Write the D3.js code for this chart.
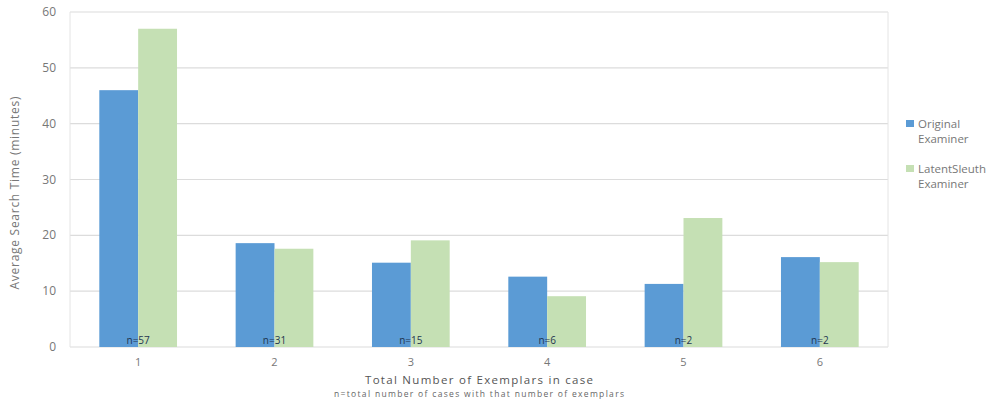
<!DOCTYPE html>
<html>
<head>
<meta charset="utf-8">
<script src="https://cdn.jsdelivr.net/npm/d3@7"></script>
<style>
  html, body { margin: 0; padding: 0; background: #fff; }
  svg { display: block; font-family: "Open Sans", Lato, sans-serif; }
</style>
</head>
<body>
<svg id="chart" width="995" height="400"></svg>
<script>
// Exemplar counts per case and the average search time for each examiner group
const categories = ["1", "2", "3", "4", "5", "6"];
const originalExaminer = [46, 18.6, 15.1, 12.6, 11.3, 16.1];
const latentSleuthExaminer = [57, 17.6, 19.1, 9.1, 23.1, 15.2];
const caseCounts = ["n=57", "n=31", "n=15", "n=6", "n=2", "n=2"];
const seriesNames = [["Original", "Examiner"], ["LatentSleuth", "Examiner"]];
const yTicks = [0, 10, 20, 30, 40, 50, 60];

const colors = ["#5b9bd5", "#c5e0b4"];

const svg = d3.select("#chart");
const plot = { left: 70, right: 888, top: 12, bottom: 347 };

const x = d3.scaleBand()
  .domain(categories)
  .range([plot.left, plot.right])
  .paddingInner(0.43)
  .paddingOuter(0.215);

const y = d3.scaleLinear().domain([0, 60]).range([plot.bottom, plot.top]);

// Horizontal gridlines
svg.append("g")
  .selectAll("line")
  .data(yTicks)
  .join("line")
  .attr("x1", plot.left)
  .attr("x2", plot.right)
  .attr("y1", d => y(d))
  .attr("y2", d => y(d))
  .attr("stroke", "#dcdcdc")
  .attr("stroke-width", 1.2);

// Plot frame sides
svg.append("g")
  .selectAll("line")
  .data([plot.left, plot.right])
  .join("line")
  .attr("x1", d => d).attr("x2", d => d)
  .attr("y1", plot.top).attr("y2", plot.bottom)
  .attr("stroke", "#e4e4e4")
  .attr("stroke-width", 1);

// Y axis tick labels
svg.append("g")
  .selectAll("text")
  .data(yTicks)
  .join("text")
  .attr("x", 56)
  .attr("y", d => y(d) + 4)
  .attr("text-anchor", "end")
  .attr("font-size", 12)
  .attr("fill", "#777")
  .text(d => d);

// Bars
const inner = d3.scaleBand()
  .domain([0, 1])
  .range([0, x.bandwidth()]);

const groups = svg.append("g")
  .selectAll("g")
  .data(categories)
  .join("g")
  .attr("transform", d => `translate(${x(d)},0)`);

groups.selectAll("rect")
  .data((d, i) => [originalExaminer[i], latentSleuthExaminer[i]])
  .join("rect")
  .attr("x", (d, j) => inner(j))
  .attr("width", inner.bandwidth())
  .attr("y", d => y(d))
  .attr("height", d => y(0) - y(d))
  .attr("fill", (d, j) => colors[j]);

// Case count labels at the foot of each pair
svg.append("g")
  .selectAll("text")
  .data(categories)
  .join("text")
  .attr("x", d => x(d) + x.bandwidth() / 2)
  .attr("y", plot.bottom - 3)
  .attr("text-anchor", "middle")
  .attr("font-size", 10)
  .attr("fill", "#1f3550")
  .text((d, i) => caseCounts[i]);

// X tick labels
svg.append("g")
  .selectAll("text")
  .data(categories)
  .join("text")
  .attr("x", d => x(d) + x.bandwidth() / 2)
  .attr("y", 366)
  .attr("text-anchor", "middle")
  .attr("font-size", 11)
  .attr("fill", "#777")
  .text(d => d);

// Axis titles
svg.append("text")
  .attr("x", (plot.left + plot.right) / 2)
  .attr("y", 383.5)
  .attr("text-anchor", "middle")
  .attr("font-size", 11.5)
  .attr("textLength", 228)
  .attr("lengthAdjust", "spacing")
  .attr("fill", "#555")
  .text("Total Number of Exemplars in case");

svg.append("text")
  .attr("x", (plot.left + plot.right) / 2)
  .attr("y", 397)
  .attr("text-anchor", "middle")
  .attr("font-size", 8.5)
  .attr("textLength", 290)
  .attr("lengthAdjust", "spacing")
  .attr("fill", "#666")
  .text("n=total number of cases with that number of exemplars");

svg.append("text")
  .attr("transform", `translate(19,193) rotate(-90)`)
  .attr("text-anchor", "middle")
  .attr("font-size", 12)
  .attr("textLength", 193)
  .attr("lengthAdjust", "spacing")
  .attr("fill", "#777")
  .text("Average Search Time (minutes)");

// Legend
const legend = svg.append("g")
  .selectAll("g")
  .data(seriesNames)
  .join("g")
  .attr("transform", (d, i) => `translate(906,${120 + i * 45})`);

legend.append("rect")
  .attr("width", 8)
  .attr("height", 7)
  .attr("y", 0)
  .attr("fill", (d, i) => colors[i]);

legend.append("text")
  .attr("x", 12)
  .attr("y", 8)
  .attr("font-size", 11.5)
  .attr("fill", "#777")
  .selectAll("tspan")
  .data(d => d)
  .join("tspan")
  .attr("x", 12)
  .attr("dy", (d, k) => k === 0 ? 0 : 15)
  .text(d => d);
</script>
</body>
</html>
